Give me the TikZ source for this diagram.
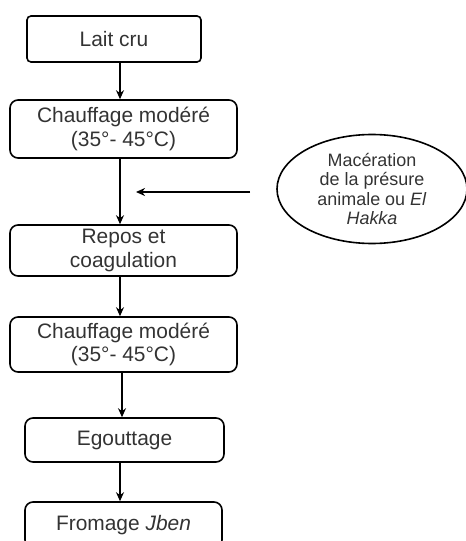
\documentclass[tikz,border=0pt]{standalone}
\usepackage{fontspec}
\setmainfont{Liberation Sans}
\usetikzlibrary{shapes.geometric,arrows.meta}
\definecolor{txt}{HTML}{333333}
\begin{document}
\begin{tikzpicture}[x=1bp,y=-1bp,
  stepbox/.style={draw=black,line width=1.6bp,rounded corners=8bp,align=center,
    text=txt,font=\fontsize{21}{24}\selectfont,inner sep=0pt},
  conn/.style={line width=1.6bp,-{Stealth[length=9bp,width=8bp]}}]
\useasboundingbox (0,0) rectangle (466,541);
\node[stepbox,rounded corners=4bp,minimum width=174bp,minimum height=46bp] (b1) at (114,39) {Lait cru};
\node[stepbox,minimum width=227bp,minimum height=58bp] (b2) at (123.5,129) {Chauffage modéré\\(35°- 45°C)};
\node[stepbox,minimum width=227bp,minimum height=51bp] (b3) at (123.5,250.5) {Repos et\\coagulation};
\node[stepbox,minimum width=227bp,minimum height=55bp] (b4) at (123.5,344.5) {Chauffage modéré\\(35°- 45°C)};
\node[stepbox,minimum width=199bp,minimum height=44bp] (b5) at (124.5,440) {Egouttage};
\node[stepbox,minimum width=197bp,minimum height=46bp] (b6) at (123.5,525) {Fromage \textit{Jben}};
\node[draw=black,line width=1.6bp,ellipse,minimum width=190bp,minimum height=109bp,inner sep=0pt,
  align=center,text=txt,font=\fontsize{18}{19.5}\selectfont] (e) at (372,189)
  {Macération\\de la présure\\animale ou \textit{El}\\\textit{Hakka}};
\coordinate (hs) at (250,192);
\coordinate (he) at (136,192);
\draw[conn] (b1.south -| 120,0) -- (b2.north -| 120,0);
\draw[conn] (b2.south -| 120,0) -- (b3.north -| 120,0);
\draw[conn] (b3.south -| 120,0) -- (b4.north -| 120,0);
\draw[conn] (b4.south -| 122,0) -- (b5.north -| 122,0);
\draw[conn] (b5.south -| 120,0) -- (b6.north -| 120,0);
\draw[conn] (hs) -- (he);
\end{tikzpicture}
\end{document}
